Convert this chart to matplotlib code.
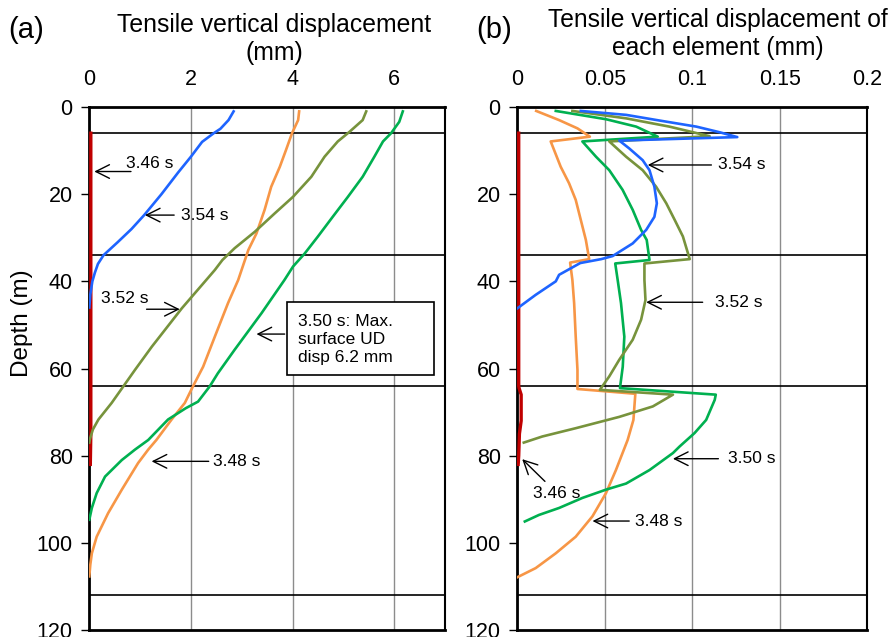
import matplotlib
matplotlib.use("Agg")
import matplotlib.pyplot as plt
from matplotlib.patches import Rectangle

plt.rcParams['font.family'] = ['Liberation Sans', 'DejaVu Sans']

# ---------------- data ----------------
times = ['3.46 s', '3.48 s', '3.50 s', '3.52 s', '3.54 s']
colors = {'3.46 s': '#C00000', '3.48 s': '#F79646', '3.50 s': '#00B050',
          '3.52 s': '#77933C', '3.54 s': '#1E64FF'}

layer_depths = [6, 34, 64, 112]

# (a) cumulative tensile vertical displacement (mm) vs depth (m)
a_depth_346 = [6, 20, 40, 64, 66, 75, 82]
a_disp_346 = [0.03, 0.03, 0.03, 0.03, 0.03, 0.03, 0.02]

a_depth_348 = [1, 3, 6, 9.9, 13.7, 18.3, 23.6, 29, 32.8, 35.9, 39.7, 45, 52.7, 59.6,
               64.1, 67.9, 71.7, 76.4, 78.6, 81.7, 87.8, 93.2, 98.6, 102.4, 105, 107.7]
a_disp_348 = [4.13, 4.11, 3.99, 3.87, 3.75, 3.58, 3.45, 3.29, 3.13, 3.04, 2.93, 2.73, 2.47, 2.24,
              2.04, 1.88, 1.62, 1.32, 1.16, 0.96, 0.64, 0.37, 0.145, 0.05, 0.02, 0.0]

a_depth_350 = [1, 3.4, 6, 7.9, 11.4, 16, 20.6, 25.2, 29.7, 33.6, 36.6, 39.7, 47.3, 55.7,
               61.1, 64.1, 67.6, 69.1, 71.7, 76.4, 78.6, 81, 84.8, 88.6, 92, 94.7]
a_disp_350 = [6.17, 6.10, 5.94, 5.78, 5.61, 5.38, 5.09, 4.79, 4.50, 4.24, 4.01, 3.84, 3.39, 2.86,
              2.53, 2.37, 2.14, 1.90, 1.55, 1.16, 0.90, 0.64, 0.31, 0.145, 0.05, 0.0]

a_depth_352 = [1, 3, 5.7, 7.9, 11.4, 16, 20.6, 24.4, 28.6, 32.4, 35.1, 37.4, 39.3, 46.2,
               55, 60.3, 64.1, 67.9, 71.7, 74, 76.3, 77]
a_disp_352 = [5.45, 5.38, 5.12, 4.89, 4.63, 4.37, 4.01, 3.65, 3.26, 2.86, 2.62, 2.47, 2.33, 1.82,
              1.23, 0.90, 0.67, 0.44, 0.18, 0.07, 0.01, 0.0]

a_depth_354 = [1, 3, 5, 6, 8, 11.4, 15, 20, 24.8, 28, 31, 34, 36, 38, 40, 43, 46]
a_disp_354 = [2.84, 2.74, 2.58, 2.45, 2.22, 2.00, 1.75, 1.42, 1.08, 0.83, 0.56, 0.28,
              0.17, 0.11, 0.06, 0.02, 0.0]

# (b) tensile vertical displacement of each element (mm) vs depth (m)
b_depth_346 = [6, 64, 64.5, 66, 72, 75, 80, 82]
b_disp_346 = [0.0008, 0.0008, 0.0010, 0.0022, 0.0022, 0.0012, 0.0008, 0.0005]

b_depth_348 = [0.9, 3, 4.9, 6.8, 7.9, 13.7, 17.5, 21.3, 25.9, 30.5, 34.9, 35.7, 39.7, 45,
               52.7, 60.3, 64.7, 65.8, 71.8, 76.4, 83.3, 88.6, 93.9, 98.6, 102.4, 105.8, 107.9]
b_disp_348 = [0.0108, 0.0239, 0.0344, 0.0415, 0.0191, 0.0248, 0.0296, 0.0334, 0.0363, 0.0392,
              0.0411, 0.0302, 0.0315, 0.0325, 0.0334, 0.0344, 0.0344, 0.0675, 0.0664, 0.0631,
              0.0564, 0.0507, 0.0430, 0.0334, 0.0220, 0.0105, 0.0]

b_depth_350 = [0.9, 2.8, 4.5, 6.8, 7.9, 11.4, 14.5, 19, 23.6, 28.2, 30.5, 35.1, 35.9, 39.7,
               45, 52.7, 59.6, 64.5, 66, 67.2, 71.8, 74.8, 77.9, 79.4, 83.3, 86.4, 87.8,
               89.7, 92, 93.6, 95.1]
b_disp_350 = [0.0220, 0.0507, 0.0680, 0.0803, 0.0372, 0.0450, 0.0526, 0.0602, 0.0660, 0.0708,
              0.0740, 0.0756, 0.0560, 0.0574, 0.0593, 0.0612, 0.0603, 0.0587, 0.1135, 0.1129,
              0.1080, 0.1014, 0.0928, 0.0890, 0.0756, 0.0622, 0.0507, 0.0372, 0.0239, 0.0124,
              0.0043]

b_depth_352 = [0.9, 2.6, 4.5, 6.7, 7.9, 11.4, 14.5, 18.3, 22.1, 25.9, 29.7, 34.9, 35.9, 39.7,
               44.3, 48.8, 53.4, 58, 61.8, 64.9, 66, 68.7, 71.1, 73.7, 75.6, 77]
b_disp_352 = [0.0315, 0.0622, 0.0870, 0.1100, 0.0526, 0.0622, 0.0717, 0.0794, 0.0852, 0.0900,
              0.0947, 0.0986, 0.0727, 0.0727, 0.0733, 0.0708, 0.0660, 0.0583, 0.0526, 0.0472,
              0.0890, 0.0775, 0.0583, 0.0334, 0.0143, 0.0037]

b_depth_354 = [0.9, 1.8, 3.1, 4.5, 5.8, 6.9, 7.7, 9.5, 12.2, 14.5, 18.3, 22.1, 25.2, 28.2,
               31.3, 34.2, 34.9, 35.8, 38.5, 40, 43.1, 46.2]
b_disp_354 = [0.0363, 0.0622, 0.0813, 0.1024, 0.1158, 0.1258, 0.0583, 0.0640, 0.0717, 0.0756,
              0.0784, 0.0798, 0.0784, 0.0737, 0.0660, 0.0545, 0.0480, 0.0360, 0.0239, 0.0220,
              0.0105, 0.0]

a_series = {'3.46 s': (a_disp_346, a_depth_346), '3.48 s': (a_disp_348, a_depth_348),
            '3.50 s': (a_disp_350, a_depth_350), '3.52 s': (a_disp_352, a_depth_352),
            '3.54 s': (a_disp_354, a_depth_354)}
b_series = {'3.46 s': (b_disp_346, b_depth_346), '3.48 s': (b_disp_348, b_depth_348),
            '3.50 s': (b_disp_350, b_depth_350), '3.52 s': (b_disp_352, b_depth_352),
            '3.54 s': (b_disp_354, b_depth_354)}

a_xticks = [0, 2, 4, 6]
a_xticklabels = ['0', '2', '4', '6']
b_xticks = [0, 0.05, 0.1, 0.15, 0.2]
b_xticklabels = ['0', '0.05', '0.1', '0.15', '0.2']
depth_ticks = [0, 20, 40, 60, 80, 100, 120]

# ---------------- figure ----------------
fig = plt.figure(figsize=(8.93, 6.37), dpi=100)
ax_a = fig.add_axes([0.1000, 0.0110, 0.3983, 0.8210])
ax_b = fig.add_axes([0.5793, 0.0110, 0.3916, 0.8210])


def style_axes(ax, xmax, xticks, xticklabels):
    ax.set_xlim(0, xmax)
    ax.set_ylim(120, 0)
    ax.xaxis.tick_top()
    ax.set_xticks(xticks)
    ax.set_xticklabels(xticklabels)
    ax.set_yticks(depth_ticks)
    ax.tick_params(axis='x', length=0, pad=12, labelsize=15.5)
    ax.tick_params(axis='y', direction='out', length=6, width=1, pad=6, labelsize=15.5)
    ax.grid(axis='x', color='#8c8c8c', lw=1.0, zorder=0)
    ax.set_axisbelow(True)
    for d in layer_depths:
        ax.axhline(d, color='black', lw=1.2, zorder=1)
    for side in ['top', 'left', 'bottom']:
        ax.spines[side].set_linewidth(2.0)
    ax.spines['right'].set_linewidth(1.5)


style_axes(ax_a, 7, a_xticks, a_xticklabels)
style_axes(ax_b, 0.2, b_xticks, b_xticklabels)

for t in times:
    lw = 2.4 if t == '3.46 s' else 1.9
    x, y = a_series[t]
    ax_a.plot(x, y, color=colors[t], lw=lw, zorder=3, solid_joinstyle='round')
    x, y = b_series[t]
    ax_b.plot(x, y, color=colors[t], lw=lw, zorder=3, solid_joinstyle='round')

arrow_kw = dict(arrowstyle='->,head_length=0.7,head_width=0.35', color='black',
                lw=1.0, shrinkA=0, shrinkB=0, mutation_scale=14)
fs_ann = 12.5


def label_arrow(ax, text, head, tail, text_pos, ha='left'):
    ax.annotate('', xy=head, xytext=tail, arrowprops=arrow_kw, zorder=5)
    ax.text(text_pos[0], text_pos[1], text, ha=ha, va='center', fontsize=fs_ann, zorder=6)


# (a) labels
label_arrow(ax_a, '3.46 s', (0.098, 14.8), (0.82, 14.8), (0.715, 12.9))
label_arrow(ax_a, '3.54 s', (1.094, 24.8), (1.67, 24.8), (1.795, 24.8))
label_arrow(ax_a, '3.52 s', (1.78, 46.4), (1.127, 46.4), (0.23, 43.9))
label_arrow(ax_a, '3.48 s', (1.226, 81.3), (2.35, 81.3), (2.44, 81.3))
ax_a.annotate('', xy=(3.29, 52.1), xytext=(3.845, 52.1), arrowprops=arrow_kw, zorder=5)
ax_a.add_patch(Rectangle((3.89, 44.8), 2.89, 16.8, facecolor='white',
                         edgecolor='black', lw=1.2, zorder=5))
ax_a.text(4.106, 53.4, '3.50 s: Max.\nsurface UD\ndisp 6.2 mm', ha='left', va='center',
          fontsize=fs_ann, linespacing=1.25, zorder=6)

# (b) labels
label_arrow(ax_b, '3.54 s', (0.0746, 13.3), (0.111, 13.3), (0.115, 13.3))
label_arrow(ax_b, '3.52 s', (0.0737, 44.8), (0.106, 44.8), (0.113, 44.8))
label_arrow(ax_b, '3.50 s', (0.089, 80.7), (0.115, 80.7), (0.1206, 80.7))
label_arrow(ax_b, '3.48 s', (0.043, 95.0), (0.064, 95.0), (0.0675, 95.0))
label_arrow(ax_b, '3.46 s', (0.0028, 80.8), (0.0158, 85.9), (0.0089, 88.6))

# titles and axis label
fig.text(8 / 893, 1 - 30 / 637, '(a)', fontsize=21, ha='left', va='center')
fig.text(476 / 893, 1 - 30 / 637, '(b)', fontsize=21, ha='left', va='center')
fig.text(274 / 893, 1 - 25 / 637, 'Tensile vertical displacement', fontsize=17.8,
         ha='center', va='center')
fig.text(274 / 893, 1 - 53 / 637, '(mm)', fontsize=17.8, ha='center', va='center')
fig.text(718 / 893, 1 - 20 / 637, 'Tensile vertical displacement of', fontsize=17.7,
         ha='center', va='center')
fig.text(718 / 893, 1 - 48 / 637, 'each element (mm)', fontsize=17.7,
         ha='center', va='center')
fig.text(22 / 893, 1 - 323 / 637, 'Depth (m)', fontsize=17.5, rotation=90,
         ha='center', va='center')

fig.savefig('out.png', dpi=100)
